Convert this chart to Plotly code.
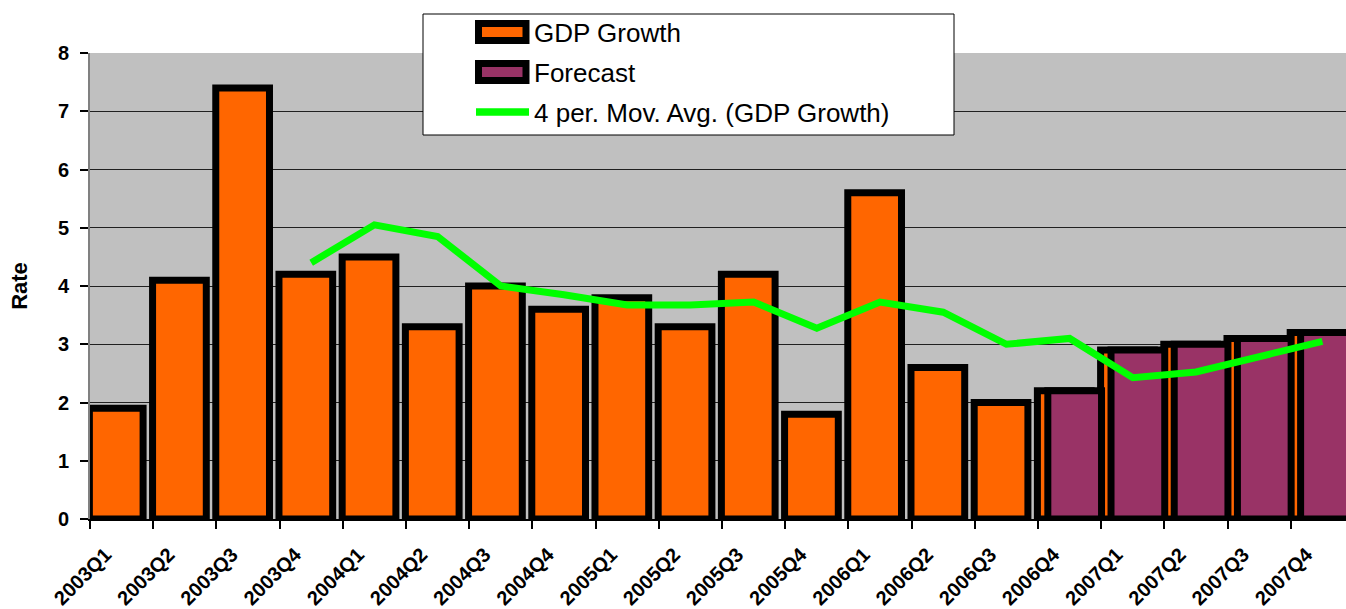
import plotly.graph_objects as go

quarters = ["2003Q1", "2003Q2", "2003Q3", "2003Q4", "2004Q1", "2004Q2", "2004Q3", "2004Q4",
            "2005Q1", "2005Q2", "2005Q3", "2005Q4", "2006Q1", "2006Q2", "2006Q3", "2006Q4",
            "2007Q1", "2007Q2", "2007Q3", "2007Q4"]
gdp_growth = [1.9, 4.1, 7.4, 4.2, 4.5, 3.3, 4.0, 3.6, 3.8, 3.3, 4.2, 1.8, 5.6, 2.6, 2.0,
              2.2, 2.9, 3.0, 3.1, 3.2]
forecast = [None] * 15 + [2.2, 2.9, 3.0, 3.1, 3.2]
mov_avg = [None, None, None, 4.4, 5.05, 4.85, 4.0, 3.85, 3.675, 3.675, 3.725, 3.275, 3.725,
           3.55, 3.0, 3.1, 2.425, 2.525, 2.8, 3.05]

series_names = ["GDP Growth", "Forecast", "4 per. Mov. Avg. (GDP Growth)"]
ORANGE = "#FF6600"
PURPLE = "#993366"
GREEN = "#00FF00"
FONT = "Liberation Sans, Arial, sans-serif"

W, H = 1346, 609
L, T, B = 90, 53, 90
PW, PH = W - L, H - T - B


def px(x):
    return (x - L) / PW


def py(y):
    return (H - B - y) / PH


fig = go.Figure()
fig.add_trace(go.Bar(
    x=quarters, y=gdp_growth, name=series_names[0],
    width=0.85, offset=-0.51,
    marker=dict(color=ORANGE, line=dict(color="black", width=7)),
    showlegend=False,
))
fig.add_trace(go.Bar(
    x=quarters, y=forecast, name=series_names[1],
    width=0.85, offset=-0.345,
    marker=dict(color=PURPLE, line=dict(color="black", width=7)),
    showlegend=False,
))
fig.add_trace(go.Scatter(
    x=quarters, y=mov_avg, name=series_names[2], mode="lines",
    line=dict(color=GREEN, width=7),
    showlegend=False,
))

# custom legend (Excel style)
shapes = []
annotations = []
shapes.append(dict(type="rect", xref="paper", yref="paper",
                   x0=px(423), x1=px(954), y0=py(135), y1=py(14),
                   fillcolor="white", line=dict(color="black", width=1), layer="above"))
rows = [(32, ORANGE), (72, PURPLE)]
for (cy, col), name in zip(rows, series_names[:2]):
    shapes.append(dict(type="rect", xref="paper", yref="paper",
                       x0=px(478.5), x1=px(526), y0=py(cy + 8.5), y1=py(cy - 8.5),
                       fillcolor=col, line=dict(color="black", width=7), layer="above"))
shapes.append(dict(type="line", xref="paper", yref="paper",
                   x0=px(476), x1=px(529), y0=py(112), y1=py(112),
                   line=dict(color=GREEN, width=7.5), layer="above"))
for cy, name in zip([33, 73, 113], series_names):
    annotations.append(dict(xref="paper", yref="paper", x=px(532), y=py(cy),
                            text=name, showarrow=False, xanchor="left", yanchor="middle",
                            font=dict(family=FONT, size=26, color="black")))

fig.update_layout(
    width=W, height=H,
    margin=dict(l=L, r=0, t=T, b=B, pad=0),
    paper_bgcolor="white", plot_bgcolor="#C0C0C0",
    barmode="overlay",
    shapes=shapes, annotations=annotations,
    font=dict(family=FONT, color="black"),
)
fig.update_xaxes(
    type="category", range=[-0.5, 19.373],
    tickson="boundaries", ticks="outside", ticklen=8, tickwidth=1.5, tickcolor="black",
    showgrid=False, showline=True, linecolor="black", linewidth=2,
    tickangle=-45, tickfont=dict(family=FONT, size=20, color="black", weight="bold"),
    ticklabelshift=-16, ticklabelstandoff=14,
)
fig.update_yaxes(
    range=[0, 8], dtick=1, tick0=0,
    showgrid=True, gridcolor="#202020", gridwidth=1, zeroline=False,
    ticks="outside", ticklen=8, tickwidth=1.5, tickcolor="black",
    showline=True, linecolor="#808080", linewidth=2,
    tickfont=dict(family=FONT, size=20, color="black", weight="bold"),
    ticklabelstandoff=7,
    title=dict(text="Rate", font=dict(family=FONT, size=22, color="black", weight="bold"), standoff=24),
)

fig.write_html("out.html", config={"displayModeBar": False},
               post_script="document.body.style.margin='0';")
